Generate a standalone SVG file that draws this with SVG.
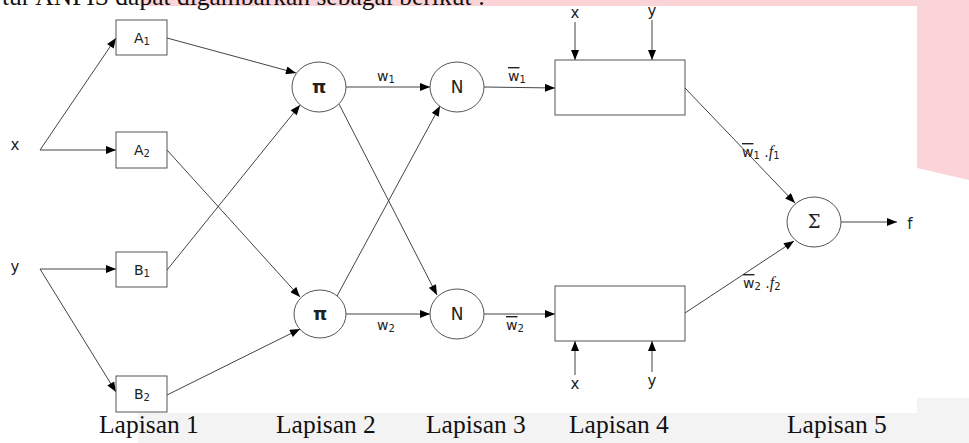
<svg xmlns="http://www.w3.org/2000/svg" width="969" height="443" viewBox="0 0 969 443">
<style>
.node{fill:#fff;stroke:#555;stroke-width:1}
.lbl{font-family:"DejaVu Sans",Verdana,sans-serif;font-size:14px;fill:#222}
.io{font-family:"DejaVu Sans",Verdana,sans-serif;font-size:15px;fill:#222;text-anchor:middle}
.big{font-family:"DejaVu Sans",Verdana,sans-serif;font-size:17px;fill:#222;text-anchor:middle}
.pi{font-family:"DejaVu Sans",sans-serif;font-size:18px;font-weight:bold;fill:#222;text-anchor:middle}
.sub{font-size:10px}
.it{font-family:"Liberation Serif","Times New Roman",serif;font-style:italic;font-size:16px}
.sym{font-family:"DejaVu Serif","Liberation Serif",serif;font-size:18px;fill:#222;text-anchor:middle}
.doc{font-family:"Liberation Serif","Times New Roman",serif;font-size:25.5px;fill:#111}
.conn{stroke:#444;stroke-width:1;fill:none;marker-end:url(#ah)}
</style>
<defs>
<marker id="ah" viewBox="0 0 10 8" refX="10" refY="4" markerWidth="11" markerHeight="8" orient="auto" markerUnits="userSpaceOnUse">
<path d="M0,0 L10,4 L0,8 z" fill="#000"/>
</marker>
</defs>
<rect x="0" y="0" width="969" height="443" fill="#fff"/>
<rect x="140" y="0" width="829" height="6" fill="#fbd4d8"/>
<polygon points="917,6 969,6 969,180 917,168" fill="#fbd4d8"/>
<polygon points="138,413 917,413 917,398 969,398 969,443 138,443" fill="#f3f3f3"/>
<text class="doc" x="2" y="5">tur ANFIS dapat digambarkan sebagai berikut :</text>

<g id="connectors">
<path class="conn" d="M40,150 L116,38"/>
<path class="conn" d="M40,150 L116,150"/>
<path class="conn" d="M40,269 L116,269"/>
<path class="conn" d="M40,269 L116,392"/>
<path class="conn" d="M167,38 L296,73"/>
<path class="conn" d="M167,150 L300,297"/>
<path class="conn" d="M167,270 L300,105"/>
<path class="conn" d="M167,395 L300,329"/>
<path class="conn" d="M346,87 L430,87"/>
<path class="conn" d="M339,104 L437,295"/>
<path class="conn" d="M337,296 L440,106"/>
<path class="conn" d="M346,314 L430,314"/>
<path class="conn" d="M484,87 L555,88"/>
<path class="conn" d="M484,314 L555,314"/>
<path class="conn" d="M685,88 L795,203"/>
<path class="conn" d="M685,313 L794,241"/>
<path class="conn" d="M841,222 L897,222"/>
<path class="conn" d="M575,22 L575,60"/>
<path class="conn" d="M652,20 L652,60"/>
<path class="conn" d="M575,375 L575,341"/>
<path class="conn" d="M652,372 L652,341"/>
<text class="lbl" x="377" y="81">w<tspan class="sub" dy="2">1</tspan></text>
<text class="lbl" x="377" y="330">w<tspan class="sub" dy="2">2</tspan></text>
<text class="lbl" x="508" y="81"><tspan text-decoration="overline">w</tspan><tspan class="sub" dy="2">1</tspan></text>
<text class="lbl" x="506" y="330"><tspan text-decoration="overline">w</tspan><tspan class="sub" dy="2">2</tspan></text>
<text class="lbl" x="742" y="157"><tspan text-decoration="overline">w</tspan><tspan class="sub" dy="2">1</tspan><tspan dy="-2"> .</tspan><tspan class="it">f</tspan><tspan class="sub" dy="2">1</tspan></text>
<text class="lbl" x="743" y="288"><tspan text-decoration="overline">w</tspan><tspan class="sub" dy="2">2</tspan><tspan dy="-2"> .</tspan><tspan class="it">f</tspan><tspan class="sub" dy="2">2</tspan></text>
</g>

<g id="in-x"><text class="io" x="15" y="150">x</text></g>
<g id="in-y"><text class="io" x="15" y="272">y</text></g>

<g id="A1"><rect class="node" x="116" y="20" width="51" height="35"/><text class="lbl" x="134" y="43">A<tspan class="sub" dy="2">1</tspan></text></g>
<g id="A2"><rect class="node" x="116" y="132" width="51" height="36"/><text class="lbl" x="134" y="155">A<tspan class="sub" dy="2">2</tspan></text></g>
<g id="B1"><rect class="node" x="116" y="252" width="51" height="35"/><text class="lbl" x="134" y="275">B<tspan class="sub" dy="2">1</tspan></text></g>
<g id="B2"><rect class="node" x="116" y="376" width="51" height="36"/><text class="lbl" x="134" y="399">B<tspan class="sub" dy="2">2</tspan></text></g>

<g id="pi1"><ellipse class="node" cx="319" cy="87" rx="27" ry="25"/><text class="pi" x="319" y="93">π</text></g>
<g id="pi2"><ellipse class="node" cx="320" cy="314" rx="26" ry="24"/><text class="pi" x="320" y="320">π</text></g>
<g id="N1"><ellipse class="node" cx="457" cy="87" rx="27" ry="25"/><text class="big" x="457" y="93">N</text></g>
<g id="N2"><ellipse class="node" cx="457" cy="314" rx="27" ry="25"/><text class="big" x="457" y="320">N</text></g>

<g id="L4top"><rect class="node" x="555" y="60" width="130" height="55"/>
<text class="io" x="575" y="18">x</text>
<text class="io" x="652" y="16">y</text></g>
<g id="L4bot"><rect class="node" x="555" y="286" width="130" height="55"/>
<text class="io" x="575" y="389">x</text>
<text class="io" x="652" y="386">y</text></g>

<g id="sigma"><ellipse class="node" cx="814" cy="222" rx="27" ry="25"/><text class="sym" x="814" y="228">Σ</text></g>
<g id="out-f"><text class="io" x="910" y="229">f</text></g>

<g id="layers">
<text class="doc" x="99" y="433">Lapisan 1</text>
<text class="doc" x="276" y="433">Lapisan 2</text>
<text class="doc" x="426" y="433">Lapisan 3</text>
<text class="doc" x="569" y="433">Lapisan 4</text>
<text class="doc" x="787" y="433">Lapisan 5</text>
</g>
</svg>
